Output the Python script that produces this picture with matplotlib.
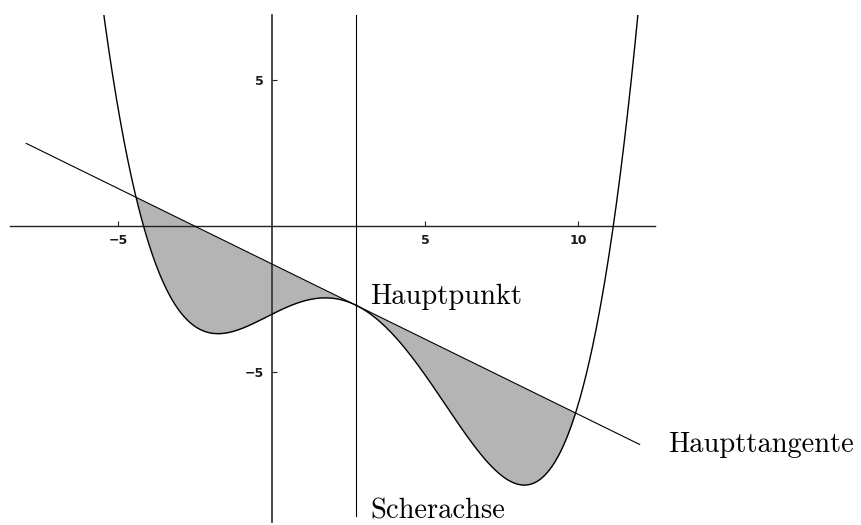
import matplotlib
matplotlib.use("Agg")
import matplotlib.pyplot as plt
import numpy as np

# values
main_x = 2.75                  # Hauptpunkt / Scherachse
outer_roots = [-4.42, 9.91]    # where curve meets the Haupttangente again
tangent_slope = -0.516
tangent_x0 = -2.5              # tangent crosses the x axis here
curve_c = 0.00523              # leading coefficient of the quartic
tangent_ends = [-8.0, 12.0]
x_ticks = [-5, 5, 10]
y_ticks = [-5, 5]
x_range = (-8.53, 12.50)
y_range = (-10.14, 7.24)


def tangent(x):
    return tangent_slope * (np.asarray(x) - tangent_x0)


def curve(x):
    x = np.asarray(x)
    return tangent(x) + curve_c * (x - outer_roots[0]) * (x - outer_roots[1]) * (x - main_x) ** 2


fig = plt.figure(figsize=(8.62, 5.25), dpi=100)
ax = fig.add_axes([10 / 862, 3 / 525, 645 / 862, 507 / 525])
ax.set_xlim(*x_range)
ax.set_ylim(*y_range)

# shaded area between curve and tangent
xs = np.linspace(outer_roots[0], outer_roots[1], 600)
ax.fill_between(xs, curve(xs), tangent(xs), color="#b4b4b4", lw=0, zorder=1)

xc = np.linspace(x_range[0], x_range[1], 1200)
ax.plot(xc, curve(xc), color="black", lw=1.0, zorder=3)
ax.plot(tangent_ends, tangent(tangent_ends), color="black", lw=0.8, zorder=3)
ax.plot([main_x, main_x], [-9.92, y_range[1]], color="black", lw=0.8, zorder=3)

# axes through origin
for side in ["top", "right"]:
    ax.spines[side].set_visible(False)
ax.spines["left"].set_position(("data", 0))
ax.spines["bottom"].set_position(("data", 0))
ax.spines["left"].set_color("#3a3a3a")
ax.spines["left"].set_linewidth(1.3)
ax.spines["bottom"].set_color("#222222")
ax.spines["bottom"].set_linewidth(1.0)
ax.patch.set_alpha(0)

ax.set_xticks(x_ticks)
ax.set_yticks(y_ticks)
ax.tick_params(direction="in", length=3.5, width=0.8, color="#222222")
ax.tick_params(axis="x", pad=5.5)
ax.tick_params(axis="y", pad=5.5)
for lab in ax.get_xticklabels() + ax.get_yticklabels():
    lab.set_fontfamily("DejaVu Sans")
    lab.set_fontweight("bold")
    lab.set_fontsize(9)
    lab.set_color("#1a1a1a")

lab_font = dict(family="cmr10", fontsize=20.5, va="baseline", ha="left", clip_on=False)
ax.text(3.21, -2.68, "Hauptpunkt", **lab_font)
ax.text(12.93, -7.74, "Haupttangente", **lab_font)
ax.text(3.21, -10.02, "Scherachse", **lab_font)

fig.savefig("out.png", dpi=100)
